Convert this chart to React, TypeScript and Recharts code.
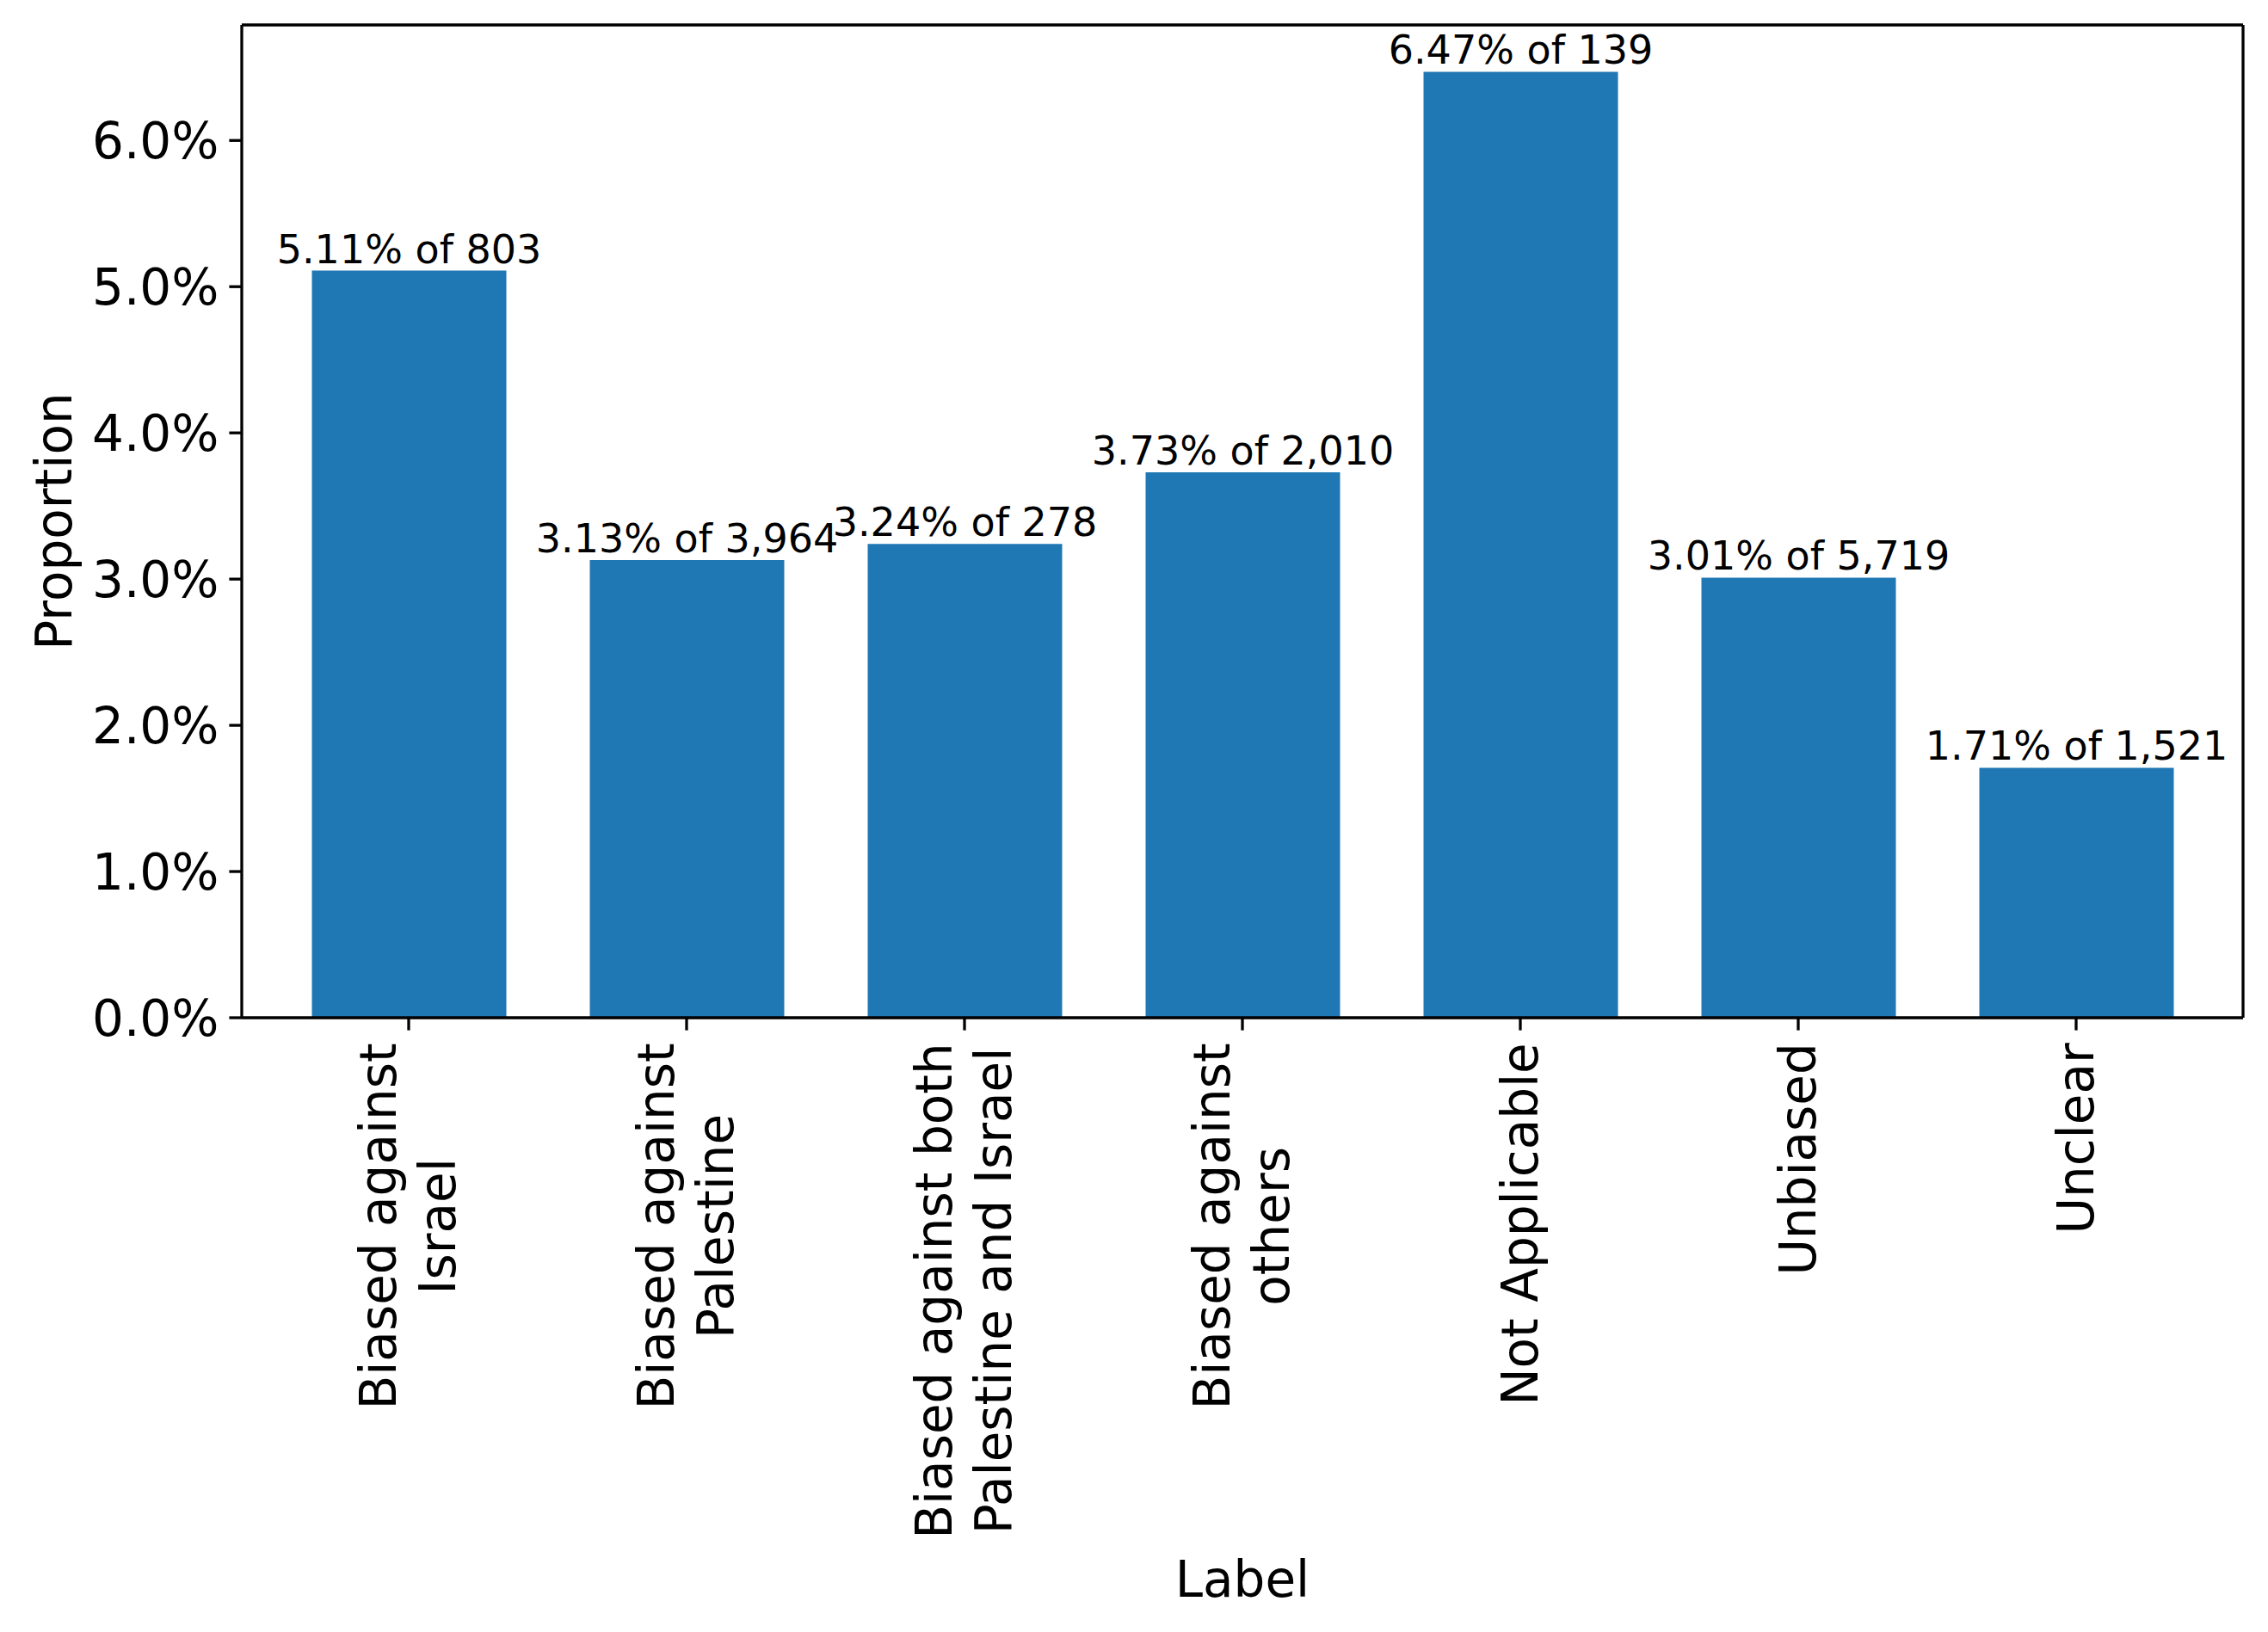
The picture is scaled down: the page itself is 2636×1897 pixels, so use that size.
import React from 'react';
import { BarChart, Bar, XAxis, YAxis, LabelList } from 'recharts';

const categories = [
  'Biased against\nIsrael',
  'Biased against\nPalestine',
  'Biased against both\nPalestine and Israel',
  'Biased against\nothers',
  'Not Applicable',
  'Unbiased',
  'Unclear',
];
const proportions = [5.11, 3.13, 3.24, 3.73, 6.47, 3.01, 1.71];
const totals = [803, 3964, 278, 2010, 139, 5719, 1521];
const yTicks = [0, 1, 2, 3, 4, 5, 6];

const FONT = '"DejaVu Sans", sans-serif';
const LW = 3.3;

const data = categories.map((c, i) => ({
  label: c,
  value: proportions[i],
  text: `${proportions[i].toFixed(2)}% of ${totals[i].toLocaleString('en-US')}`,
}));

let ctx: CanvasRenderingContext2D | null = null;
function measure(s: string, size: number) {
  if (!ctx) ctx = document.createElement('canvas').getContext('2d');
  if (!ctx) return s.length * size * 0.6;
  ctx.font = `${size}px "DejaVu Sans"`;
  return ctx.measureText(s).width;
}

const XTick = (props: any) => {
  const { x, y, payload } = props;
  const lines = String(payload.value).split('\n');
  const size = 58;
  const lh = 69;
  const maxW = Math.max(...lines.map((l) => measure(l, size)));
  const yc = y + maxW / 2;
  return (
    <g>
      {lines.map((l, i) => {
        const xi = x + (i - (lines.length - 1) / 2) * lh;
        return (
          <text
            key={i}
            x={xi}
            y={yc}
            transform={`rotate(-90 ${xi} ${yc})`}
            textAnchor="middle"
            dominantBaseline="central"
            fontSize={size}
            fontFamily={FONT}
            fill="#000"
          >
            {l}
          </text>
        );
      })}
    </g>
  );
};

const BarText = (props: any) => {
  const { x, y, width, value } = props;
  return (
    <text
      x={x + width / 2}
      y={y - 9}
      textAnchor="middle"
      fontSize={46}
      fontFamily={FONT}
      fill="#000"
    >
      {value}
    </text>
  );
};

export default function App() {
  return (
    <div style={{ width: 2636, height: 1897, background: '#fff' }}>
      <style>{`body{margin:0}`}</style>
      <BarChart
        width={2636}
        height={1897}
        data={data}
        margin={{ top: 28, right: 28, left: 0, bottom: 0 }}
        barCategoryGap={0}
      >
        <XAxis
          dataKey="label"
          height={714}
          interval={0}
          padding={{ left: 32.5, right: 32.5 }}
          axisLine={{ stroke: '#000', strokeWidth: LW }}
          tickLine={{ stroke: '#000', strokeWidth: LW }}
          tickSize={14.6}
          tickMargin={14.6}
          tick={<XTick />}
          label={{ value: 'Label', position: 'insideBottom', offset: 41, fontSize: 58, fontFamily: FONT, fill: '#000' }}
        />
        <XAxis
          xAxisId="top"
          dataKey="label"
          orientation="top"
          height={1}
          tick={false}
          tickLine={false}
          axisLine={{ stroke: '#000', strokeWidth: LW }}
        />
        <YAxis
          width={281}
          domain={[0, 6.79]}
          ticks={yTicks}
          allowDataOverflow
          tickFormatter={(v: number) => `${v.toFixed(1)}%`}
          axisLine={{ stroke: '#000', strokeWidth: LW }}
          tickLine={{ stroke: '#000', strokeWidth: LW }}
          tickSize={14.6}
          tickMargin={12}
          tick={{ fontSize: 58, fontFamily: FONT, fill: '#000' }}
          label={{ value: 'Proportion', angle: -90, position: 'center', dx: -78, fontSize: 58, fontFamily: FONT, fill: '#000' }}
        />
        <YAxis
          yAxisId="right"
          orientation="right"
          width={1}
          domain={[0, 6.79]}
          tick={false}
          tickLine={false}
          axisLine={{ stroke: '#000', strokeWidth: LW }}
        />
        <Bar dataKey="value" fill="#1f77b4" barSize={226} isAnimationActive={false}>
          <LabelList dataKey="text" content={<BarText />} />
        </Bar>
      </BarChart>
    </div>
  );
}
